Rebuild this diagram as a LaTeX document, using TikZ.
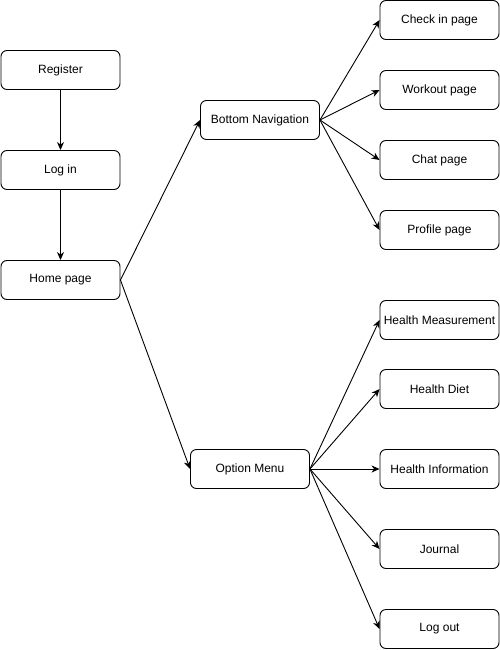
\documentclass[tikz,border=0pt]{standalone}
\usepackage{fontspec}
\setmainfont{Liberation Sans}
\usetikzlibrary{positioning, arrows.meta}

\begin{document}
\begin{tikzpicture}[x=1pt, y=-1pt, every node/.style={font=\fontsize{12}{14}\selectfont}]
	\tikzstyle{pagec}=[rectangle, rounded corners=6pt, draw=black, line width=0.9pt, minimum width=119pt, minimum height=39pt, inner sep=0pt, fill=white]
	\tikzstyle{linkc}=[line width=0.9pt, -{Stealth[length=8pt, width=7pt, inset=2.5pt]}]
	\useasboundingbox (0,0) rectangle (500,650);
	% left column
	\node (register) at (60.5,70) [pagec]{Register};
	\node (login) at (60.5,170) [pagec]{Log in};
	\node (home) at (60.5,280) [pagec]{Home page};
	% menus
	\node (bottomnav) at (260,120) [pagec]{Bottom Navigation};
	\node (optionmenu) at (250,469) [pagec]{Option Menu};
	% pages
	\node (checkin) at (439.5,20) [pagec]{Check in page};
	\node (workout) at (439.5,90) [pagec]{Workout page};
	\node (chat) at (439.5,160) [pagec]{Chat page};
	\node (profile) at (439.5,230) [pagec]{Profile page};
	\node (measure) at (439.5,320) [pagec]{Health Measurement};
	\node (diet) at (439.5,389) [pagec]{Health Diet};
	\node (info) at (439.5,469) [pagec]{Health Information};
	\node (journal) at (439.5,549) [pagec]{Journal};
	\node (logout) at (439.5,629) [pagec]{Log out};
	\draw[linkc] (register) -- (login);
	\draw[linkc] (login) -- (home);
	\draw[linkc] (home.east) -- (bottomnav.west);
	\draw[linkc] (home.east) -- (optionmenu.west);
	\foreach \p in {checkin, workout, chat, profile}
		\draw[linkc] (bottomnav.east) -- (\p.west);
	\foreach \p in {measure, diet, info, journal, logout}
		\draw[linkc] (optionmenu.east) -- (\p.west);
\end{tikzpicture}
\end{document}
